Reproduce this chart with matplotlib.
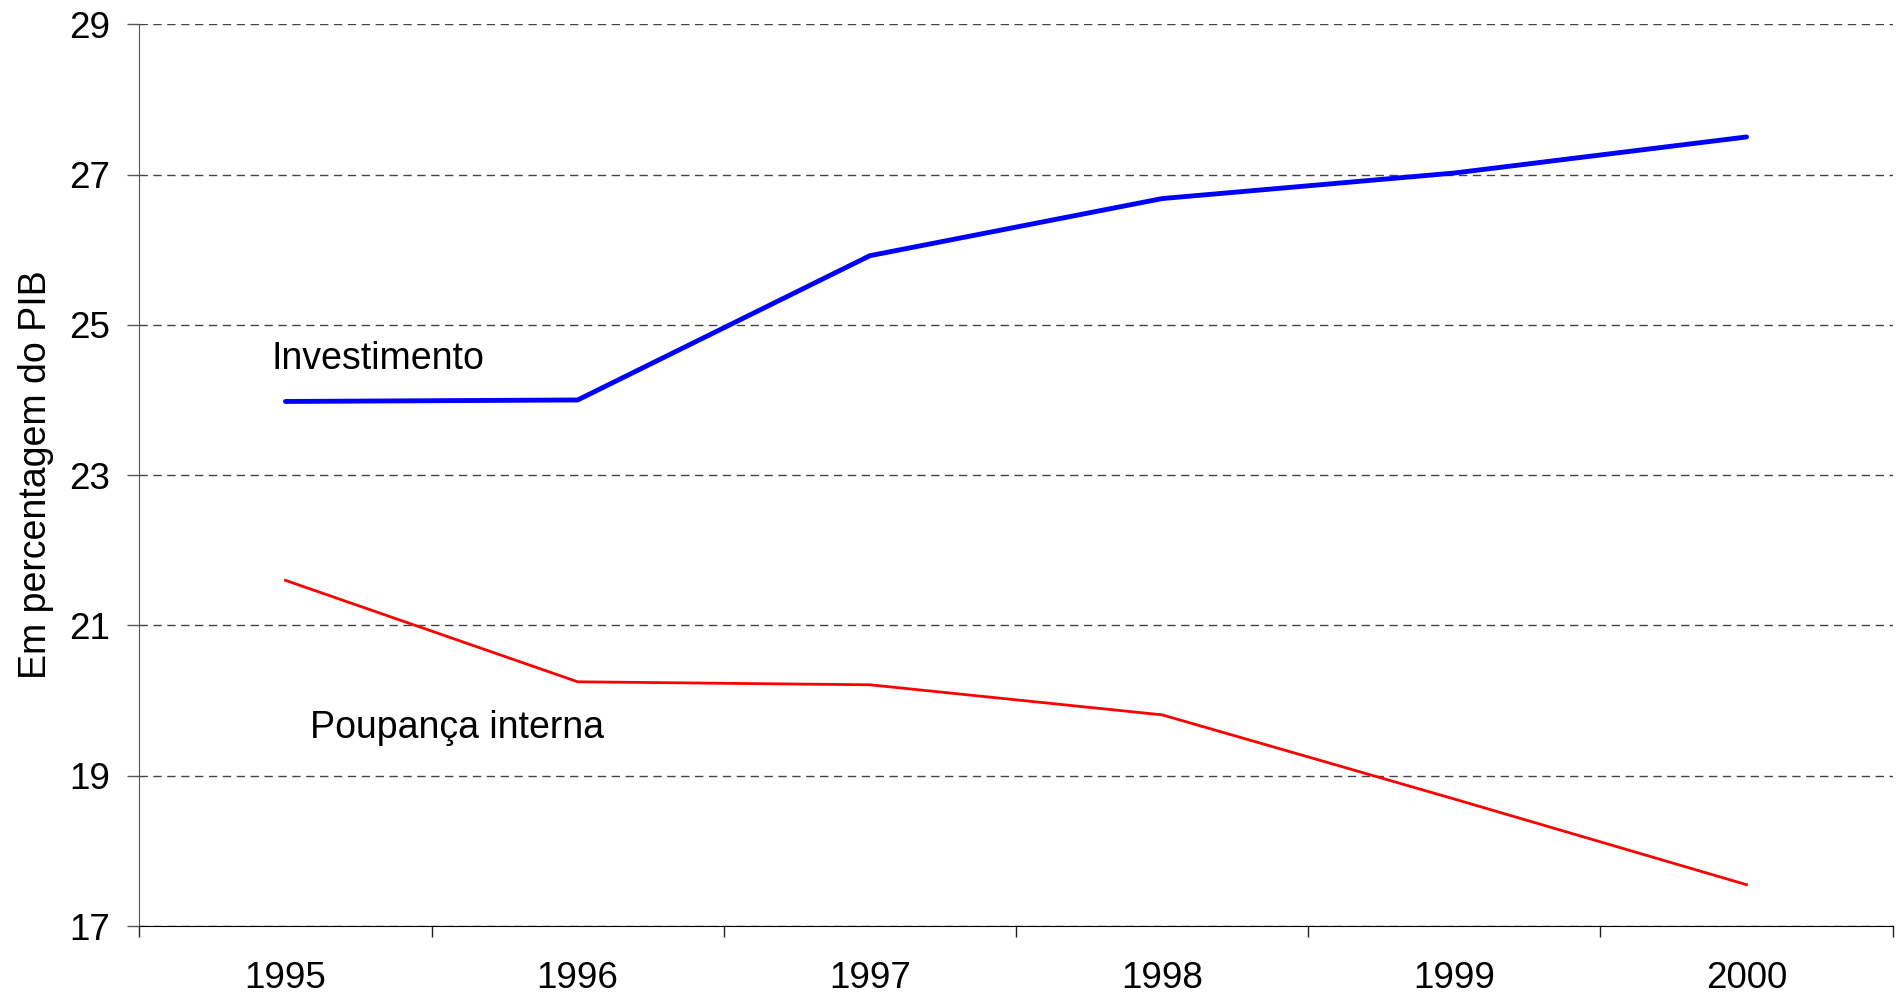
import matplotlib
matplotlib.use("Agg")
from matplotlib import pyplot as plt
import numpy as np

plt.rcParams['font.family'] = ['Liberation Sans', 'DejaVu Sans']

# Data
anos = ['1995', '1996', '1997', '1998', '1999', '2000']
investimento = [23.98, 24.00, 25.92, 26.68, 27.02, 27.50]
poupanca = [21.60, 20.25, 20.21, 19.81, 18.69, 17.55]
y_ticks = [17, 19, 21, 23, 25, 27, 29]

x = np.arange(len(anos))

fig = plt.figure(figsize=(19.01, 10.01), dpi=100)
ax = fig.add_axes([0.0733, 0.0749, 0.9223, 0.9009])

ax.plot(x, investimento, color='#0000ff', linewidth=3.5, solid_capstyle='round')
ax.plot(x, poupanca, color='#ff0000', linewidth=2.0)

ax.text(-0.047, 24.55, 'Investimento', fontsize=27, va='center', ha='left')
ax.text(0.084, 19.63, 'Poupança interna', fontsize=27, va='center', ha='left')

ax.set_xlim(-0.5, len(anos) - 0.5)
ax.set_ylim(17, 29)

# y axis
ax.set_yticks(y_ticks)
ax.set_yticklabels([str(v) for v in y_ticks])
ax.tick_params(axis='y', direction='out', length=9, width=1, color='#555555',
               labelsize=26.5, pad=12)
ax.yaxis.grid(True, linestyle=(0, (6, 4)), color='#444444', linewidth=1)

# x axis: ticks between categories, labels centered
ax.set_xticks(np.arange(-0.5, len(anos)), minor=False)
ax.set_xticklabels([])
ax.set_xticks(x, minor=True)
ax.set_xticklabels(anos, minor=True)
ax.tick_params(axis='x', which='major', direction='out', length=8, width=1, color='#222222')
ax.tick_params(axis='x', which='minor', length=0, labelsize=26.5, pad=25)

for s in ['top', 'right']:
    ax.spines[s].set_visible(False)
ax.spines['left'].set_color('#555555')
ax.spines['bottom'].set_color('black')

ax.set_ylabel('Em percentagem do PIB', fontsize=27, labelpad=11)

plt.savefig('out.png', dpi=100)
